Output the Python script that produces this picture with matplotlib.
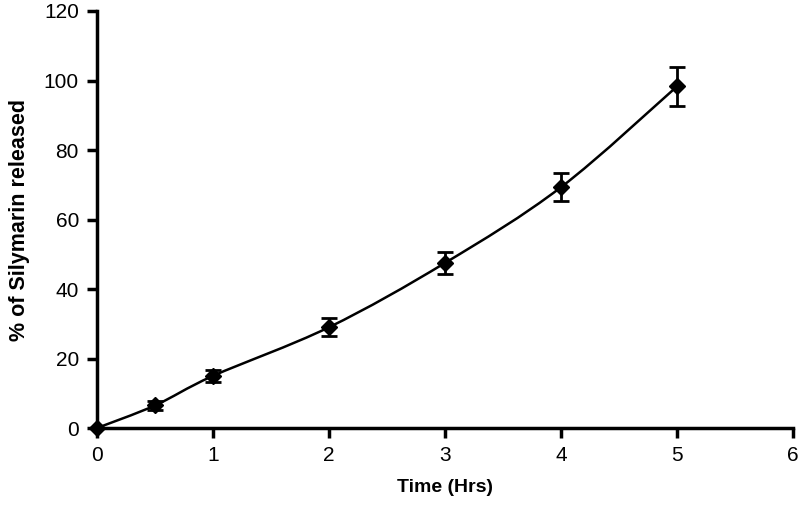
import matplotlib.pyplot as plt
from matplotlib.path import Path
from matplotlib.patches import PathPatch

time_hrs = [0, 0.5, 1, 2, 3, 4, 5]
released = [0, 6.5, 15, 29, 47.5, 69.3, 98.3]
errors = [0, 1.2, 1.8, 2.6, 3.2, 4.0, 5.5]


def smooth_path(xs, ys):
    """Excel-like smoothed line: cubic Bezier through each point."""
    verts = [(xs[0], ys[0])]
    codes = [Path.MOVETO]
    n = len(xs)
    for i in range(n - 1):
        x0, y0 = xs[max(i - 1, 0)], ys[max(i - 1, 0)]
        x1, y1 = xs[i], ys[i]
        x2, y2 = xs[i + 1], ys[i + 1]
        x3, y3 = xs[min(i + 2, n - 1)], ys[min(i + 2, n - 1)]
        c1 = (x1 + (x2 - x0) / 6, y1 + (y2 - y0) / 6)
        c2 = (x2 - (x3 - x1) / 6, y2 - (y3 - y1) / 6)
        verts += [c1, c2, (x2, y2)]
        codes += [Path.CURVE4] * 3
    return Path(verts, codes)


def main():
    plt.rcParams["font.family"] = ["Liberation Sans", "DejaVu Sans"]
    fig = plt.figure(figsize=(7.99, 5.14), dpi=100)
    ax = fig.add_axes([0.1214, 0.1673, 0.8711, 0.8113])

    patch = PathPatch(smooth_path(time_hrs, released), facecolor="none",
                      edgecolor="black", lw=1.8)
    ax.add_patch(patch)
    ax.errorbar(time_hrs, released, yerr=errors, fmt="D", color="black",
                ms=8, ecolor="black", elinewidth=2, capsize=6, capthick=2,
                clip_on=False, zorder=3)

    ax.set_xlim(0, 6)
    ax.set_ylim(0, 120)
    ax.set_xticks(range(0, 7))
    ax.set_yticks(range(0, 121, 20))
    for side in ["top", "right"]:
        ax.spines[side].set_visible(False)
    for side in ["left", "bottom"]:
        ax.spines[side].set_linewidth(2.5)
    ax.tick_params(direction="out", length=7, width=2.5, labelsize=15,
                   pad=6)
    ax.set_xlabel("Time (Hrs)", fontsize=14, fontweight="bold", labelpad=10)
    ax.set_ylabel("% of Silymarin released", fontsize=15.5,
                  fontweight="bold", labelpad=10)
    fig.savefig("out.png", dpi=100)


if __name__ == "__main__":
    main()
